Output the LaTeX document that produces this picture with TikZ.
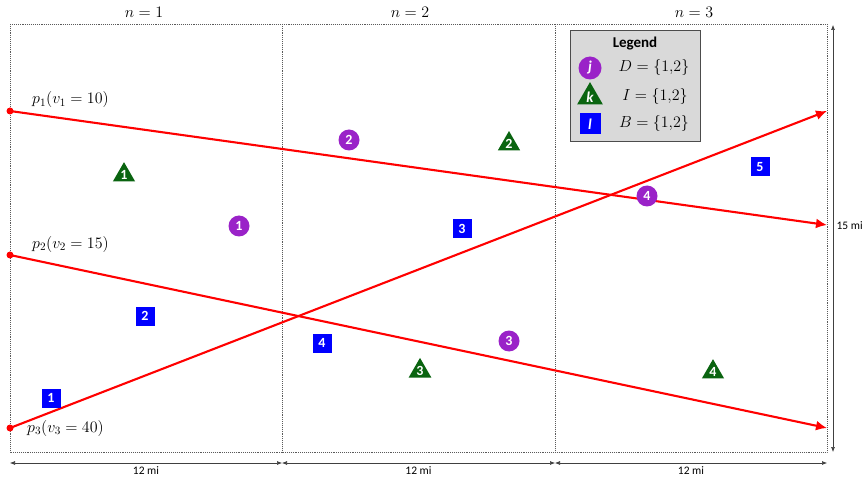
\RequirePackage{fix-cm}
\documentclass[tikz,border=0pt]{standalone}
\usepackage{fontspec}
\usepackage{amsmath}
\setsansfont{Carlito}
\usetikzlibrary{positioning, shapes.geometric, arrows.meta, calc}
\usepackage{xcolor}
\definecolor{rtred}{HTML}{FF0000}
\definecolor{rtpurple}{HTML}{9A22C8}
\definecolor{rtgreen}{HTML}{0A6410}
\definecolor{rtblue}{HTML}{0000FF}
\definecolor{rtgrid}{HTML}{5A5A5A}
\definecolor{rtleg}{HTML}{D9D9D9}

\begin{document}
\begin{tikzpicture}[x=1pt, y=-1pt,
          grid/.style={draw=rtgrid, densely dotted, line width=0.9pt},
          dim/.style={draw=black!75, line width=0.6pt, {Latex[length=5pt,width=4pt]}-{Latex[length=5pt,width=4pt]}},
          dimlbl/.style={font=\sffamily\fontsize{11.5}{12}\selectfont},
          route/.style={draw=rtred, line width=2.1pt, -{Latex[length=11pt,width=10pt]}},
          dot/.style={circle, fill=rtred, inner sep=0pt, minimum size=7pt},
          lbl/.style={font=\fontsize{16}{18}\selectfont, inner sep=1pt},
          jn/.style={circle, fill=rtpurple, text=white, inner sep=0pt, minimum size=21pt, font=\sffamily\bfseries\fontsize{14}{14}\selectfont},
          kn/.style={regular polygon, regular polygon sides=3, fill=rtgreen, text=white, inner sep=0pt, minimum size=25pt, font=\sffamily\bfseries\fontsize{14}{14}\selectfont},
          ln/.style={rectangle, fill=rtblue, text=white, inner sep=0pt, minimum size=19pt, font=\sffamily\bfseries\fontsize{14}{14}\selectfont}]
        \useasboundingbox (0,0) rectangle (865,481);
        % areas
        \draw[grid] (10,24) rectangle (827,452);
        \draw[grid] (282,24) -- (282,452);
        \draw[grid] (555,24) -- (555,452);
        \node[lbl] (n1) at (144,12) {$n=1$};
        \node[lbl] (n2) at (410,12) {$n=2$};
        \node[lbl] (n3) at (694,12) {$n=3$};
        % dimensions
        \coordinate (d0) at (10,463);
        \coordinate (d1) at (282,463);
        \coordinate (d2) at (555,463);
        \coordinate (d3) at (827,463);
        \draw[dim] (d0) -- node[dimlbl, below=0pt] {12 mi} (d1);
        \draw[dim] (d1) -- node[dimlbl, below=0pt] {12 mi} (d2);
        \draw[dim] (d2) -- node[dimlbl, below=0pt] {12 mi} (d3);
        \coordinate (h0) at (833,25);
        \coordinate (h1) at (833,452);
        \draw[dim] (h0) -- node[dimlbl, right=0pt, pos=0.47] {15 mi} (h1);
        % routes
        \node[dot] (p1) at (10,111) {};
        \node[dot] (p2) at (10,255) {};
        \node[dot] (p3) at (10,428) {};
        \coordinate (e1) at (827,225);
        \coordinate (e2) at (827,428);
        \coordinate (e3) at (827,111);
        \draw[route] (p1.center) -- (e1);
        \draw[route] (p2.center) -- (e2);
        \draw[route] (p3.center) -- (e3);
        \node[lbl, anchor=west] (p1l) at (31,100) {$p_1(v_1=10)$};
        \node[lbl, anchor=west] (p2l) at (31,244) {$p_2(v_2=15)$};
        \node[lbl, anchor=west] (p3l) at (26,428) {$p_3(v_3=40)$};
        % points
        \node[jn] (j1) at (239,226) {1};
        \node[jn] (j2) at (349,140) {2};
        \node[jn] (j3) at (509,341) {3};
        \node[jn] (j4) at (647,196) {4};
        \node[kn] (k1) at (124,175) {1};
        \node[kn] (k2) at (509,144) {2};
        \node[kn] (k3) at (420,371) {3};
        \node[kn] (k4) at (713,372) {4};
        \node[ln] (l1) at (51,398) {1};
        \node[ln] (l2) at (145,316) {2};
        \node[ln] (l3) at (462,229) {3};
        \node[ln] (l4) at (322,343) {4};
        \node[ln] (l5) at (760,167) {5};
        % legend
        \draw[draw=black!70, fill=rtleg, line width=0.6pt] (570,30) rectangle (700,141);
        \node[font=\sffamily\bfseries\fontsize{15}{16}\selectfont] (leg) at (635,44) {Legend};
        \node[jn, minimum size=23pt, font=\sffamily\bfseries\itshape\fontsize{15}{15}\selectfont] (jl) at (590,68) {j};
        \node[kn, minimum size=26pt, font=\sffamily\bfseries\itshape\fontsize{15}{15}\selectfont] (kl) at (590,97) {k};
        \node[ln, minimum size=21pt, font=\sffamily\bfseries\itshape\fontsize{15}{15}\selectfont] (ll) at (590,124) {l};
        \node[lbl] (jd) at (654,68) {$D=\{1{,}2\}$};
        \node[lbl] (kd) at (655,97) {$I=\{1{,}2\}$};
        \node[lbl] (ld) at (654,124) {$B=\{1{,}2\}$};
      \end{tikzpicture}
\end{document}
